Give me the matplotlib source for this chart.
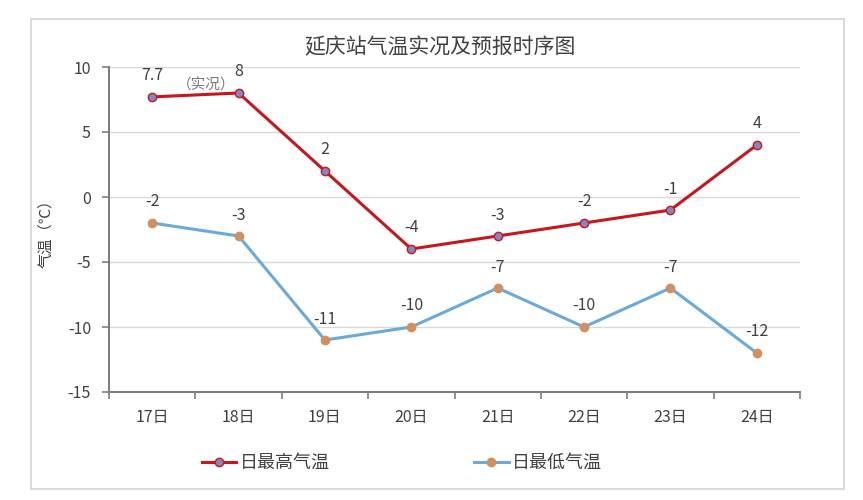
import matplotlib
matplotlib.use("Agg")
import matplotlib.pyplot as plt
from matplotlib.lines import Line2D
from matplotlib.patches import Rectangle

plt.rcParams["font.family"] = ["Noto Sans CJK SC", "DejaVu Sans"]
plt.rcParams["axes.unicode_minus"] = False

days = ["17日", "18日", "19日", "20日", "21日", "22日", "23日", "24日"]
t_max = [7.7, 8, 2, -4, -3, -2, -1, 4]
t_min = [-2, -3, -11, -10, -7, -10, -7, -12]
max_labels = ["7.7", "8", "2", "-4", "-3", "-2", "-1", "4"]
min_labels = ["-2", "-3", "-11", "-10", "-7", "-10", "-7", "-12"]

TEXT = "#404040"
RED = "#c8161d"
BLUE = "#6aa9dc"

fig = plt.figure(figsize=(8.63, 5.0), dpi=100)
W, H = 863, 500
ax = fig.add_axes([109 / W, 1 - 392 / H, 691 / W, 325 / H])

# chart border
fig.patches.append(Rectangle((31 / W, 1 - 489 / H), 813 / W, 470 / H, transform=fig.transFigure,
                             fill=False, edgecolor="#d4d4d4", linewidth=1.2))

x = list(range(len(days)))
ax.plot(x, t_max, color=RED, lw=2.2, marker="o", ms=6, mfc="#8585c4", mec=RED, mew=1.0, zorder=3)
ax.plot(x, t_min, color=BLUE, lw=2.2, marker="o", ms=6, mfc="#d0905f", mec="#d0905f", mew=1.0, zorder=3)

for i, (v, s) in enumerate(zip(t_max, max_labels)):
    ax.annotate(s, (i, v), xytext=(0, 9), textcoords="offset points", ha="center", va="bottom",
                fontsize=11.5, color=TEXT)
for i, (v, s) in enumerate(zip(t_min, min_labels)):
    ax.annotate(s, (i, v), xytext=(0, 9), textcoords="offset points", ha="center", va="bottom",
                fontsize=11.5, color=TEXT)
ax.text(0.63, 8.6, "（实况）", ha="center", va="center", fontsize=10.5, color="#7a7a7a")

ax.set_xlim(-0.5, len(days) - 0.5)
ax.set_ylim(-15, 10)
ax.set_yticks([10, 5, 0, -5, -10, -15])
ax.set_xticks([i + 0.5 for i in range(-1, len(days))])
ax.set_xticklabels([])
ax.set_xticks(x, minor=True)
ax.set_xticklabels(days, minor=True)
ax.tick_params(axis="x", which="minor", length=0, pad=12, labelsize=11.5, labelcolor=TEXT)
ax.tick_params(axis="x", which="major", length=5, color="#7f7f7f", width=1.2)
ax.tick_params(axis="y", length=5, color="#7f7f7f", width=1.2, labelsize=11.5, labelcolor=TEXT, pad=8)
ax.grid(axis="y", color="#d9d9d9", lw=1)
ax.set_axisbelow(True)
for side in ["top", "right"]:
    ax.spines[side].set_visible(False)
for side in ["left", "bottom"]:
    ax.spines[side].set_color("#7f7f7f")
    ax.spines[side].set_linewidth(1.5)

ax.set_ylabel("气温（℃）", fontsize=11, color=TEXT, labelpad=10)
fig.text(440 / W, 1 - 47 / H, "延庆站气温实况及预报时序图", ha="center", va="center", fontsize=15, color=TEXT)

handles = [
    Line2D([], [], color=RED, lw=2.2, marker="o", ms=6, mfc="#8585c4", mec=RED),
    Line2D([], [], color=BLUE, lw=2.2, marker="o", ms=6, mfc="#d0905f", mec="#d0905f"),
]
fig.legend(handles, ["日最高气温", "日最低气温"], loc="center", bbox_to_anchor=(402 / W, 1 - 463 / H),
           ncol=2, frameon=False, fontsize=13, labelcolor=TEXT, handlelength=1.9, handletextpad=0.2,
           columnspacing=8.0)

fig.savefig("out.png", dpi=100)
